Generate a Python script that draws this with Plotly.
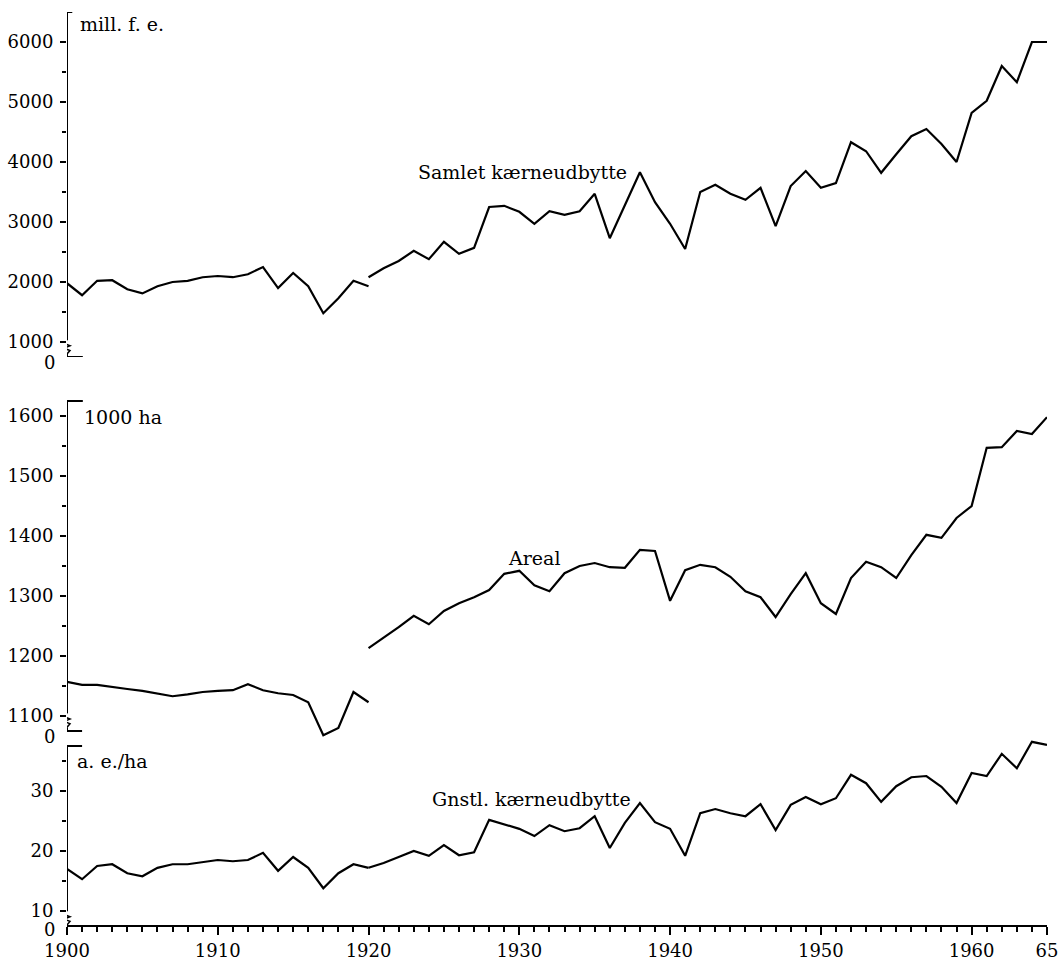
import plotly.graph_objects as go

# år før og efter 1920 (genforeningen giver et spring i serierne)
years_old = list(range(1900, 1921))
years_new = list(range(1920, 1966))

# Samlet kærneudbytte, mill. f.e.
samlet_old = [1980, 1780, 2020, 2030, 1880, 1810, 1930, 2000, 2020, 2080, 2100,
              2080, 2130, 2250, 1900, 2150, 1930, 1480, 1730, 2020, 1930]
samlet_new = [2080, 2230, 2350, 2520, 2380, 2670, 2470, 2570, 3250, 3270, 3170,
              2970, 3180, 3120, 3180, 3470, 2730, 3280, 3830, 3330, 2970, 2550,
              3500, 3620, 3470, 3370, 3570, 2930, 3600, 3850, 3570, 3650, 4330,
              4180, 3820, 4130, 4430, 4550, 4300, 4000, 4820, 5020, 5600, 5330,
              6000, 6000]

# Areal, 1000 ha
areal_old = [1157, 1152, 1152, 1148, 1145, 1142, 1138, 1133, 1136, 1140, 1142,
             1143, 1153, 1143, 1138, 1135, 1123, 1068, 1080, 1140, 1123]
areal_new = [1213, 1230, 1248, 1267, 1253, 1275, 1288, 1298, 1310, 1337, 1342,
             1318, 1308, 1338, 1350, 1355, 1348, 1347, 1377, 1375, 1292, 1343,
             1352, 1348, 1332, 1308, 1298, 1265, 1303, 1338, 1288, 1270, 1330,
             1357, 1348, 1330, 1368, 1402, 1397, 1430, 1450, 1547, 1548, 1575,
             1570, 1598]

# Gennemsnitligt kærneudbytte, a.e./ha
gnstl_old = [17.0, 15.3, 17.5, 17.8, 16.3, 15.8, 17.2, 17.8, 17.8, 18.2, 18.5,
             18.3, 18.5, 19.7, 16.7, 19.0, 17.2, 13.8, 16.3, 17.8, 17.2]
gnstl_new = [17.2, 18.0, 19.0, 20.0, 19.2, 21.0, 19.3, 19.8, 25.2, 24.5, 23.7,
             22.5, 24.3, 23.3, 23.8, 25.8, 20.5, 24.7, 28.0, 24.8, 23.7, 19.2,
             26.3, 27.0, 26.3, 25.8, 27.8, 23.5, 27.7, 29.0, 27.8, 28.8, 32.7,
             31.3, 28.2, 30.8, 32.3, 32.5, 30.7, 28.0, 33.0, 32.5, 36.2, 33.8,
             38.2, 37.7]

x_tickvals = [1900, 1910, 1920, 1930, 1940, 1950, 1960, 1965]
x_ticktext = ["1900", "1910", "1920", "1930", "1940", "1950", "1960", "65"]

FONT = "DejaVu Serif"
fig = go.Figure()

series = [("y", samlet_old, samlet_new), ("y2", areal_old, areal_new),
          ("y3", gnstl_old, gnstl_new)]
for yref, old, new in series:
    for xs, ys in ((years_old, old), (years_new, new)):
        fig.add_trace(go.Scatter(x=xs, y=ys, yaxis=yref, mode="lines",
                                 line=dict(color="black", width=2.2),
                                 showlegend=False, hoverinfo="skip"))

# panelernes akser: (yref, bund, top, brud, px pr enhed, top-stub, bund-stub)
panels = [
    ("y", 750, 6500, 917, 0.06, 0.35, 1.05),
    ("y2", 1075, 1625, 1093, 0.6, 1.05, 1.0),
    ("y3", 7.67, 37.5, 8.85, 6.0, 1.0, 0.0),
]
shapes = []
line = dict(color="black", width=2)
for yref, lo, hi, brk, ppu, top_stub, bot_stub in panels:
    h = 7
    d = h / ppu
    shapes.append(dict(type="line", xref="x", yref=yref, x0=1900, x1=1900,
                       y0=brk + d, y1=hi, line=line))
    shapes.append(dict(type="line", xref="x", yref=yref, x0=1900, x1=1900 + top_stub,
                       y0=hi, y1=hi, line=line))
    shapes.append(dict(type="line", xref="x", yref=yref, x0=1900, x1=1900,
                       y0=lo, y1=max(lo, brk - d), line=line))
    if bot_stub:
        shapes.append(dict(type="line", xref="x", yref=yref, x0=1900,
                           x1=1900 + bot_stub, y0=lo, y1=lo, line=line))
    shapes.append(dict(type="path", xref="x", yref=yref, xsizemode="pixel",
                       ysizemode="pixel", xanchor=1900, yanchor=brk,
                       path=f"M0,{h} L-3,{h/2} L3,{h/6} L-3,{-h/6} L3,{-h/2} L0,{-h}",
                       line=dict(color="black", width=1.5)))

tickfont = dict(family=FONT, size=18, color="black")
labelfont = dict(family=FONT, size=19, color="black")
common_y = dict(showgrid=False, zeroline=False, showline=False, ticks="outside",
                ticklen=6, tickwidth=1.5, tickcolor="black", tickfont=tickfont,
                ticklabelstandoff=3, anchor="x", automargin=False)

fig.update_layout(
    width=1062, height=960,
    margin=dict(l=67, r=15, t=12, b=35),
    paper_bgcolor="white", plot_bgcolor="white",
    font=dict(family=FONT, size=18, color="black"),
    xaxis=dict(range=[1900, 1965], showgrid=False, zeroline=False, showline=True,
               linecolor="black", linewidth=2, ticks="outside", ticklen=8,
               tickwidth=1.5, tickcolor="black", tickvals=x_tickvals,
               ticktext=x_ticktext, tickfont=tickfont, anchor="y3",
               automargin=False,
               minor=dict(ticks="outside", tickvals=list(range(1900, 1966)),
                          ticklen=5, tickwidth=1.5, tickcolor="black")),
    yaxis=dict(domain=[0.6221, 1.0], range=[750, 6500],
               tickvals=[1000, 2000, 3000, 4000, 5000, 6000],
               minor=dict(ticks="outside", tickvals=[1500, 2500, 3500, 4500, 5500],
                          ticklen=4, tickwidth=1.5, tickcolor="black"),
               **common_y),
    yaxis2=dict(domain=[0.2026, 0.5838], range=[1060, 1640],
                tickvals=[1100, 1200, 1300, 1400, 1500, 1600],
                minor=dict(ticks="outside", tickvals=[1150, 1250, 1350, 1450, 1550],
                           ticklen=4, tickwidth=1.5, tickcolor="black"),
                **common_y),
    yaxis3=dict(domain=[0.0, 0.2026], range=[7.67, 38.5],
                tickvals=[10, 20, 30],
                minor=dict(ticks="outside", tickvals=[15, 25, 35],
                           ticklen=4, tickwidth=1.5, tickcolor="black"),
                **common_y),
    shapes=shapes,
)

# "0" under hvert akse-brud
for yref, lo, *_ in panels:
    fig.add_annotation(text="0", xref="paper", x=0, xanchor="right", xshift=-10,
                       yref=yref, y=lo, yanchor="middle", yshift=-5,
                       showarrow=False, font=tickfont)

labels = [
    ("mill. f. e.", "y", 1900.7, 6300, "left"),
    ("Samlet kærneudbytte", "y", 1930.2, 3833, "center"),
    ("1000 ha", "y2", 1901.0, 1598, "left"),
    ("Areal", "y2", 1931.0, 1363, "center"),
    ("a. e./ha", "y3", 1900.5, 35, "left"),
    ("Gnstl. kærneudbytte", "y3", 1930.8, 28.7, "center"),
]
for text, yref, x, y, anchor in labels:
    fig.add_annotation(text=text, xref="x", yref=yref, x=x, y=y, xanchor=anchor,
                       yanchor="middle", showarrow=False, font=labelfont)

# siden har ellers 8 px margen om figuren
fig.write_html("out.html", config={"displayModeBar": False},
               post_script="document.body.style.margin='0';")
